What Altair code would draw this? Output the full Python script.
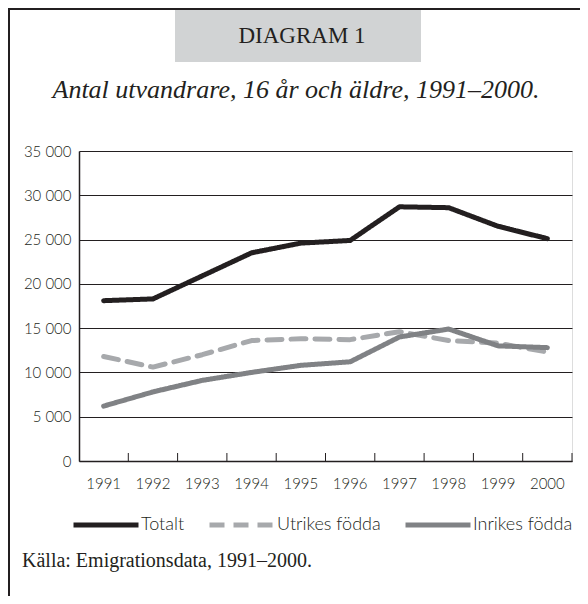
import altair as alt
import pandas as pd

years = ["1991", "1992", "1993", "1994", "1995", "1996", "1997", "1998", "1999", "2000"]
totalt = [18100, 18300, 20900, 23500, 24600, 24900, 28700, 28600, 26500, 25100]
utrikes = [11800, 10600, 12000, 13600, 13800, 13700, 14600, 13600, 13300, 12300]
inrikes = [6200, 7800, 9100, 10000, 10800, 11200, 14000, 14900, 13000, 12800]
series = ["Totalt", "Utrikes födda", "Inrikes födda"]
y_ticks = [0, 5000, 10000, 15000, 20000, 25000, 30000, 35000]

title_text = "DIAGRAM 1"
subtitle_text = "Antal utvandrare, 16 år och äldre, 1991–2000."
source_text = "Källa: Emigrationsdata, 1991–2000."

rows = []
for name, vals in zip(series, [totalt, utrikes, inrikes]):
    for yr, v in zip(years, vals):
        rows.append({"year": yr, "value": v, "series": name})
df = pd.DataFrame(rows)
ticks_df = pd.DataFrame({"year": years})

INK = "#231f20"
W, H = 493, 310

xscale = alt.Scale(type="band", domain=years, paddingInner=0, paddingOuter=0)
xaxis = alt.Axis(title=None, ticks=False, grid=False, domainColor=INK, domainWidth=1.5,
                 labelAngle=0, labelFont="Lato", labelFontSize=15, labelFontWeight=300,
                 labelColor=INK, labelPadding=15)

legend = alt.Legend(orient="none", legendX=-8, legendY=339, direction="horizontal",
                    title=None, symbolType="stroke", symbolSize=4225, symbolStrokeWidth=5,
                    labelFont="Lato", labelFontSize=18, labelFontWeight=300, labelColor=INK,
                    labelOffset=0, columnPadding=14, gridAlign="each")

lines = alt.Chart(df).mark_line(strokeWidth=5, strokeCap="round", strokeJoin="round").encode(
    x=alt.X("year:O", scale=xscale, axis=xaxis, bandPosition=0.5),
    y=alt.Y("value:Q", scale=alt.Scale(domain=[0, 35000], nice=False),
            axis=alt.Axis(title=None, values=y_ticks, ticks=False, grid=True,
                          gridColor=INK, gridWidth=1, domainColor=INK, domainWidth=1.5,
                          labelPadding=8, labelFont="Lato", labelFontSize=15,
                          labelFontWeight=300, labelColor=INK,
                          labelExpr="replace(format(datum.value, ','), ',', ' ')")),
    color=alt.Color("series:N", scale=alt.Scale(domain=series, range=[INK, "#a7a9ac", "#808285"]),
                    legend=legend),
    strokeDash=alt.StrokeDash("series:N", scale=alt.Scale(domain=series, range=[[1, 0], [15, 9], [1, 0]]),
                              legend=legend),
    detail="series:N",
)

xticks = alt.Chart(ticks_df).mark_rule(color=INK, strokeWidth=1).encode(
    x=alt.X("year:O", scale=xscale, axis=xaxis, bandPosition=1),
    y=alt.value(H - 8),
    y2=alt.value(H),
)

one = alt.Data(values=[{}])

frame_left = alt.Chart(one).mark_rule(color=INK, strokeWidth=2).encode(
    x=alt.value(-70), y=alt.value(-143), y2=alt.value(H + 135))
frame_top = alt.Chart(one).mark_rule(color=INK, strokeWidth=2).encode(
    x=alt.value(-71), x2=alt.value(W + 8), y=alt.value(-142))
title_box = alt.Chart(one).mark_rect(color="#d1d3d4").encode(
    x=alt.value(96), x2=alt.value(342), y=alt.value(-141), y2=alt.value(-89))
title = alt.Chart(one).mark_text(text=title_text, font="Liberation Serif", fontSize=23,
                                 color=INK, align="center", baseline="alphabetic").encode(
    x=alt.value(223), y=alt.value(-108))
subtitle = alt.Chart(one).mark_text(text=subtitle_text, font="Liberation Serif", fontSize=26,
                                    fontStyle="italic", color=INK, align="center",
                                    baseline="alphabetic").encode(
    x=alt.value(217), y=alt.value(-53))
source = alt.Chart(one).mark_text(text=source_text, font="Liberation Serif", fontSize=20,
                                  color=INK, align="left", baseline="alphabetic").encode(
    x=alt.value(-57), y=alt.value(416))

chart = alt.layer(
    frame_left, frame_top, title_box, title, subtitle, lines, xticks, source
).properties(
    width=W, height=H,
    padding={"left": 71, "top": 143, "right": 8, "bottom": 135},
    autosize=alt.AutoSizeParams(type="none"),
).configure_view(stroke=None).configure(background="white")

chart.save("out.html", embed_options={"renderer": "svg", "actions": False})
